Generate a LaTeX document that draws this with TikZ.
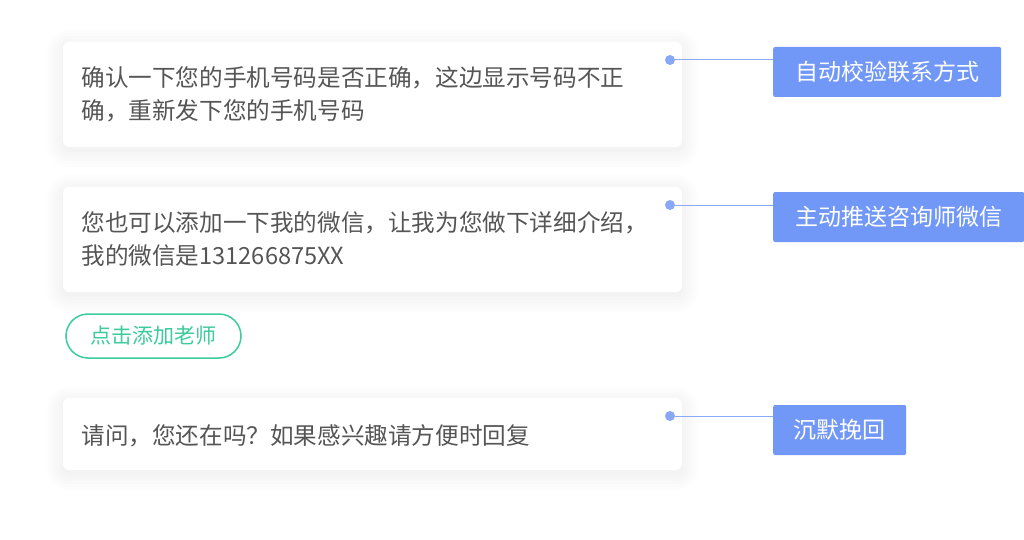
\documentclass[tikz,border=0pt]{standalone}
\usepackage{fontspec}
\setmainfont{Noto Sans CJK SC}
\usetikzlibrary{positioning}
\definecolor{txtgray}{HTML}{555555}
\definecolor{tagblue}{HTML}{7197F7}
\definecolor{dotblue}{HTML}{8AA8F8}
\definecolor{btngreen}{HTML}{3CCB9B}
\tikzset{
  msg/.style={anchor=west,align=left,text=txtgray,font=\fontsize{23.6}{33}\selectfont},
  tag/.style={fill=tagblue,text=white,rounded corners=2pt,anchor=west,
    minimum height=50pt,font=\fontsize{23}{26}\selectfont},
  dot/.style={circle,fill=dotblue,inner sep=0pt,minimum size=10pt},
  link/.style={dotblue,line width=1pt}
}
% soft card with blurred shadow
\newcommand{\cardbox}[4]{%
  \foreach \s in {16,13,...,1}{
    \fill[black,opacity=.008,rounded corners=\s pt+6pt]
      (#1-\s,#2-\s+4) rectangle (#3+\s,#4+\s+4);}
  \fill[white,rounded corners=6pt] (#1,#2) rectangle (#3,#4);}
\begin{document}
\begin{tikzpicture}[x=1pt,y=-1pt]
\useasboundingbox[fill=white] (0,0) rectangle (1024,540);

% cards
\cardbox{63}{42}{682}{147}
\cardbox{63}{187}{682}{292}
\cardbox{63}{398}{682}{470}

\node[msg] (m1) at (78,94) {确认一下您的手机号码是否正确，这边显示号码不正\\确，重新发下您的手机号码};
\node[msg] (m2) at (78,239) {您也可以添加一下我的微信，让我为您做下详细介绍，\\我的微信是131266875XX};
\node[msg] (m3) at (78,436) {请问，您还在吗？如果感兴趣请方便时回复};

% button
\node[draw=btngreen,line width=1.5pt,rounded corners=22pt,fill=white,text=btngreen,
  minimum width=175pt,minimum height=44pt,font=\fontsize{21}{24}\selectfont]
  (btn) at (153.5,336) {点击添加老师};

% tags
\node[dot] (d1) at (670,60) {};
\node[dot] (d2) at (670,205) {};
\node[dot] (d3) at (670,416) {};
\node[tag,minimum width=228pt] (t1) at (773,72) {自动校验联系方式};
\node[tag,minimum width=251pt] (t2) at (773,217) {主动推送咨询师微信};
\node[tag,minimum width=133pt] (t3) at (773,430) {沉默挽回};
\draw[link] (d1) -- (d1 -| t1.west);
\draw[link] (d2) -- (d2 -| t2.west);
\draw[link] (d3) -- (d3 -| t3.west);
\end{tikzpicture}
\end{document}
